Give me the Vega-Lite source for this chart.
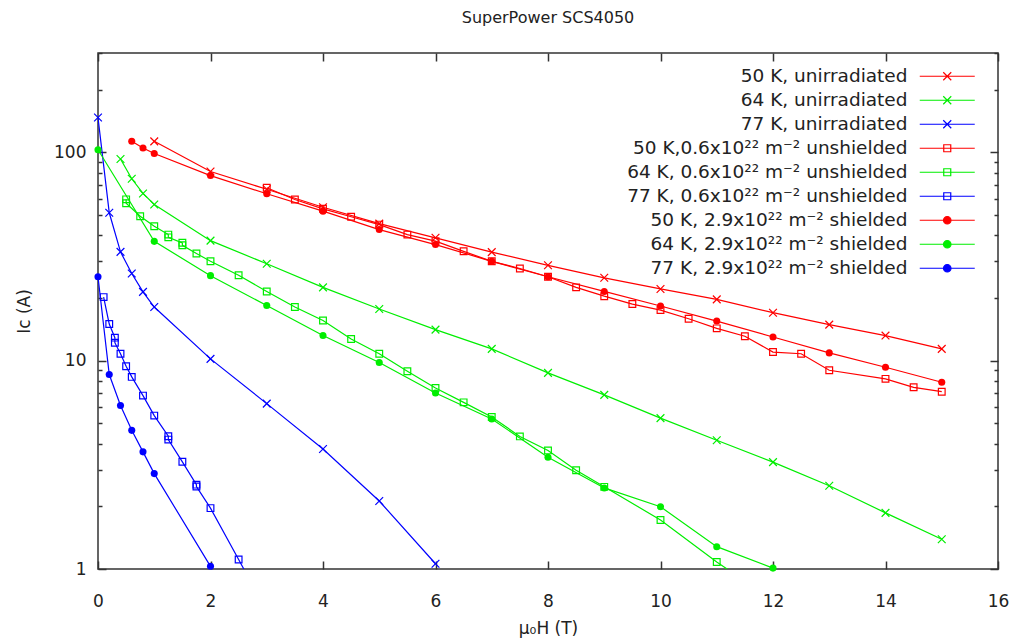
{
  "$schema": "https://vega.github.io/schema/vega-lite/v6.json",
  "width": 900,
  "height": 516,
  "autosize": {"type": "none"},
  "padding": {"left": 98, "top": 53, "right": 17, "bottom": 75},
  "title": {"text": "SuperPower SCS4050", "font": "DejaVu Sans", "fontSize": 16, "fontWeight": "normal", "color": "#222", "offset": 26},
  "config": {
    "view": {"stroke": "#333", "strokeWidth": 1.5},
    "axis": {"domain": false, "grid": false, "tickColor": "#333", "tickWidth": 1.5, "labelFont": "DejaVu Sans", "labelFontSize": 17, "labelColor": "#222", "titleFont": "DejaVu Sans", "titleFontSize": 17, "titleFontWeight": "normal", "titleColor": "#222"}
  },
  "data": {"values": [
    {"s": "50 K, unirradiated", "B": 1, "Ic": 113},
    {"s": "50 K, unirradiated", "B": 2, "Ic": 81},
    {"s": "50 K, unirradiated", "B": 3, "Ic": 66.5},
    {"s": "50 K, unirradiated", "B": 4, "Ic": 54.5},
    {"s": "50 K, unirradiated", "B": 5, "Ic": 45.5},
    {"s": "50 K, unirradiated", "B": 6, "Ic": 38.9},
    {"s": "50 K, unirradiated", "B": 7, "Ic": 33.2},
    {"s": "50 K, unirradiated", "B": 8, "Ic": 28.7},
    {"s": "50 K, unirradiated", "B": 9, "Ic": 25.0},
    {"s": "50 K, unirradiated", "B": 10, "Ic": 22.1},
    {"s": "50 K, unirradiated", "B": 11, "Ic": 19.7},
    {"s": "50 K, unirradiated", "B": 12, "Ic": 17.0},
    {"s": "50 K, unirradiated", "B": 13, "Ic": 14.9},
    {"s": "50 K, unirradiated", "B": 14, "Ic": 13.2},
    {"s": "50 K, unirradiated", "B": 15, "Ic": 11.4},
    {"s": "64 K, unirradiated", "B": 0.4, "Ic": 93},
    {"s": "64 K, unirradiated", "B": 0.6, "Ic": 74.7},
    {"s": "64 K, unirradiated", "B": 0.8, "Ic": 63.5},
    {"s": "64 K, unirradiated", "B": 1, "Ic": 56.2},
    {"s": "64 K, unirradiated", "B": 2, "Ic": 37.7},
    {"s": "64 K, unirradiated", "B": 3, "Ic": 29.2},
    {"s": "64 K, unirradiated", "B": 4, "Ic": 22.5},
    {"s": "64 K, unirradiated", "B": 5, "Ic": 17.7},
    {"s": "64 K, unirradiated", "B": 6, "Ic": 14.1},
    {"s": "64 K, unirradiated", "B": 7, "Ic": 11.4},
    {"s": "64 K, unirradiated", "B": 8, "Ic": 8.74},
    {"s": "64 K, unirradiated", "B": 9, "Ic": 6.85},
    {"s": "64 K, unirradiated", "B": 10, "Ic": 5.3},
    {"s": "64 K, unirradiated", "B": 11, "Ic": 4.15},
    {"s": "64 K, unirradiated", "B": 12, "Ic": 3.26},
    {"s": "64 K, unirradiated", "B": 13, "Ic": 2.51},
    {"s": "64 K, unirradiated", "B": 14, "Ic": 1.86},
    {"s": "64 K, unirradiated", "B": 15, "Ic": 1.39},
    {"s": "77 K, unirradiated", "B": 0, "Ic": 147},
    {"s": "77 K, unirradiated", "B": 0.2, "Ic": 51.3},
    {"s": "77 K, unirradiated", "B": 0.4, "Ic": 33.3},
    {"s": "77 K, unirradiated", "B": 0.6, "Ic": 26.2},
    {"s": "77 K, unirradiated", "B": 0.8, "Ic": 21.4},
    {"s": "77 K, unirradiated", "B": 1, "Ic": 18.1},
    {"s": "77 K, unirradiated", "B": 2, "Ic": 10.2},
    {"s": "77 K, unirradiated", "B": 3, "Ic": 6.22},
    {"s": "77 K, unirradiated", "B": 4, "Ic": 3.77},
    {"s": "77 K, unirradiated", "B": 5, "Ic": 2.12},
    {"s": "77 K, unirradiated", "B": 6, "Ic": 1.06},
    {"s": "50 K,0.6x10²² m⁻² unshielded", "B": 3, "Ic": 67.6},
    {"s": "50 K,0.6x10²² m⁻² unshielded", "B": 3.5, "Ic": 59.4},
    {"s": "50 K,0.6x10²² m⁻² unshielded", "B": 4, "Ic": 53.6},
    {"s": "50 K,0.6x10²² m⁻² unshielded", "B": 4.5, "Ic": 49.1},
    {"s": "50 K,0.6x10²² m⁻² unshielded", "B": 5, "Ic": 45.0},
    {"s": "50 K,0.6x10²² m⁻² unshielded", "B": 5.5, "Ic": 40.3},
    {"s": "50 K,0.6x10²² m⁻² unshielded", "B": 6, "Ic": 37.5},
    {"s": "50 K,0.6x10²² m⁻² unshielded", "B": 6.5, "Ic": 33.5},
    {"s": "50 K,0.6x10²² m⁻² unshielded", "B": 7, "Ic": 30.0},
    {"s": "50 K,0.6x10²² m⁻² unshielded", "B": 7.5, "Ic": 27.7},
    {"s": "50 K,0.6x10²² m⁻² unshielded", "B": 8, "Ic": 25.3},
    {"s": "50 K,0.6x10²² m⁻² unshielded", "B": 8.5, "Ic": 22.5},
    {"s": "50 K,0.6x10²² m⁻² unshielded", "B": 9, "Ic": 20.4},
    {"s": "50 K,0.6x10²² m⁻² unshielded", "B": 9.5, "Ic": 18.7},
    {"s": "50 K,0.6x10²² m⁻² unshielded", "B": 10, "Ic": 17.5},
    {"s": "50 K,0.6x10²² m⁻² unshielded", "B": 10.5, "Ic": 15.9},
    {"s": "50 K,0.6x10²² m⁻² unshielded", "B": 11, "Ic": 14.3},
    {"s": "50 K,0.6x10²² m⁻² unshielded", "B": 11.5, "Ic": 13.1},
    {"s": "50 K,0.6x10²² m⁻² unshielded", "B": 12, "Ic": 11.0},
    {"s": "50 K,0.6x10²² m⁻² unshielded", "B": 12.5, "Ic": 10.8},
    {"s": "50 K,0.6x10²² m⁻² unshielded", "B": 13, "Ic": 9.0},
    {"s": "50 K,0.6x10²² m⁻² unshielded", "B": 14, "Ic": 8.18},
    {"s": "50 K,0.6x10²² m⁻² unshielded", "B": 14.5, "Ic": 7.45},
    {"s": "50 K,0.6x10²² m⁻² unshielded", "B": 15, "Ic": 7.1},
    {"s": "64 K, 0.6x10²² m⁻² unshielded", "B": 0.5, "Ic": 59.5},
    {"s": "64 K, 0.6x10²² m⁻² unshielded", "B": 0.5, "Ic": 57},
    {"s": "64 K, 0.6x10²² m⁻² unshielded", "B": 0.75, "Ic": 49.4},
    {"s": "64 K, 0.6x10²² m⁻² unshielded", "B": 1, "Ic": 44.2},
    {"s": "64 K, 0.6x10²² m⁻² unshielded", "B": 1.25, "Ic": 40.3},
    {"s": "64 K, 0.6x10²² m⁻² unshielded", "B": 1.25, "Ic": 39.1},
    {"s": "64 K, 0.6x10²² m⁻² unshielded", "B": 1.5, "Ic": 36.8},
    {"s": "64 K, 0.6x10²² m⁻² unshielded", "B": 1.5, "Ic": 35.8},
    {"s": "64 K, 0.6x10²² m⁻² unshielded", "B": 1.75, "Ic": 32.7},
    {"s": "64 K, 0.6x10²² m⁻² unshielded", "B": 2, "Ic": 30.0},
    {"s": "64 K, 0.6x10²² m⁻² unshielded", "B": 2.5, "Ic": 25.7},
    {"s": "64 K, 0.6x10²² m⁻² unshielded", "B": 3, "Ic": 21.5},
    {"s": "64 K, 0.6x10²² m⁻² unshielded", "B": 3.5, "Ic": 18.1},
    {"s": "64 K, 0.6x10²² m⁻² unshielded", "B": 4, "Ic": 15.6},
    {"s": "64 K, 0.6x10²² m⁻² unshielded", "B": 4.5, "Ic": 12.7},
    {"s": "64 K, 0.6x10²² m⁻² unshielded", "B": 5, "Ic": 10.8},
    {"s": "64 K, 0.6x10²² m⁻² unshielded", "B": 5.5, "Ic": 8.9},
    {"s": "64 K, 0.6x10²² m⁻² unshielded", "B": 6, "Ic": 7.4},
    {"s": "64 K, 0.6x10²² m⁻² unshielded", "B": 6.5, "Ic": 6.31},
    {"s": "64 K, 0.6x10²² m⁻² unshielded", "B": 7, "Ic": 5.37},
    {"s": "64 K, 0.6x10²² m⁻² unshielded", "B": 7.5, "Ic": 4.33},
    {"s": "64 K, 0.6x10²² m⁻² unshielded", "B": 8, "Ic": 3.71},
    {"s": "64 K, 0.6x10²² m⁻² unshielded", "B": 8.5, "Ic": 2.98},
    {"s": "64 K, 0.6x10²² m⁻² unshielded", "B": 9, "Ic": 2.48},
    {"s": "64 K, 0.6x10²² m⁻² unshielded", "B": 10, "Ic": 1.72},
    {"s": "64 K, 0.6x10²² m⁻² unshielded", "B": 11, "Ic": 1.08},
    {"s": "64 K, 0.6x10²² m⁻² unshielded", "B": 12, "Ic": 0.71},
    {"s": "77 K, 0.6x10²² m⁻² unshielded", "B": 0.1, "Ic": 20.2},
    {"s": "77 K, 0.6x10²² m⁻² unshielded", "B": 0.2, "Ic": 15.0},
    {"s": "77 K, 0.6x10²² m⁻² unshielded", "B": 0.3, "Ic": 12.9},
    {"s": "77 K, 0.6x10²² m⁻² unshielded", "B": 0.3, "Ic": 12.2},
    {"s": "77 K, 0.6x10²² m⁻² unshielded", "B": 0.4, "Ic": 10.8},
    {"s": "77 K, 0.6x10²² m⁻² unshielded", "B": 0.5, "Ic": 9.4},
    {"s": "77 K, 0.6x10²² m⁻² unshielded", "B": 0.6, "Ic": 8.36},
    {"s": "77 K, 0.6x10²² m⁻² unshielded", "B": 0.8, "Ic": 6.8},
    {"s": "77 K, 0.6x10²² m⁻² unshielded", "B": 1, "Ic": 5.45},
    {"s": "77 K, 0.6x10²² m⁻² unshielded", "B": 1.25, "Ic": 4.34},
    {"s": "77 K, 0.6x10²² m⁻² unshielded", "B": 1.25, "Ic": 4.18},
    {"s": "77 K, 0.6x10²² m⁻² unshielded", "B": 1.5, "Ic": 3.27},
    {"s": "77 K, 0.6x10²² m⁻² unshielded", "B": 1.75, "Ic": 2.54},
    {"s": "77 K, 0.6x10²² m⁻² unshielded", "B": 1.75, "Ic": 2.49},
    {"s": "77 K, 0.6x10²² m⁻² unshielded", "B": 2, "Ic": 1.96},
    {"s": "77 K, 0.6x10²² m⁻² unshielded", "B": 2.5, "Ic": 1.11},
    {"s": "77 K, 0.6x10²² m⁻² unshielded", "B": 3, "Ic": 0.63},
    {"s": "50 K, 2.9x10²² m⁻² shielded", "B": 0.6, "Ic": 113},
    {"s": "50 K, 2.9x10²² m⁻² shielded", "B": 0.8, "Ic": 105},
    {"s": "50 K, 2.9x10²² m⁻² shielded", "B": 1, "Ic": 98.8},
    {"s": "50 K, 2.9x10²² m⁻² shielded", "B": 2, "Ic": 77.4},
    {"s": "50 K, 2.9x10²² m⁻² shielded", "B": 3, "Ic": 63.3},
    {"s": "50 K, 2.9x10²² m⁻² shielded", "B": 4, "Ic": 52.2},
    {"s": "50 K, 2.9x10²² m⁻² shielded", "B": 5, "Ic": 42.6},
    {"s": "50 K, 2.9x10²² m⁻² shielded", "B": 6, "Ic": 36.1},
    {"s": "50 K, 2.9x10²² m⁻² shielded", "B": 7, "Ic": 30.0},
    {"s": "50 K, 2.9x10²² m⁻² shielded", "B": 8, "Ic": 25.3},
    {"s": "50 K, 2.9x10²² m⁻² shielded", "B": 9, "Ic": 21.5},
    {"s": "50 K, 2.9x10²² m⁻² shielded", "B": 10, "Ic": 18.3},
    {"s": "50 K, 2.9x10²² m⁻² shielded", "B": 11, "Ic": 15.5},
    {"s": "50 K, 2.9x10²² m⁻² shielded", "B": 12, "Ic": 13.0},
    {"s": "50 K, 2.9x10²² m⁻² shielded", "B": 13, "Ic": 10.9},
    {"s": "50 K, 2.9x10²² m⁻² shielded", "B": 14, "Ic": 9.3},
    {"s": "50 K, 2.9x10²² m⁻² shielded", "B": 15, "Ic": 7.88},
    {"s": "64 K, 2.9x10²² m⁻² shielded", "B": 0, "Ic": 103},
    {"s": "64 K, 2.9x10²² m⁻² shielded", "B": 1, "Ic": 37.4},
    {"s": "64 K, 2.9x10²² m⁻² shielded", "B": 2, "Ic": 25.6},
    {"s": "64 K, 2.9x10²² m⁻² shielded", "B": 3, "Ic": 18.4},
    {"s": "64 K, 2.9x10²² m⁻² shielded", "B": 4, "Ic": 13.2},
    {"s": "64 K, 2.9x10²² m⁻² shielded", "B": 5, "Ic": 9.8},
    {"s": "64 K, 2.9x10²² m⁻² shielded", "B": 6, "Ic": 7.0},
    {"s": "64 K, 2.9x10²² m⁻² shielded", "B": 7, "Ic": 5.25},
    {"s": "64 K, 2.9x10²² m⁻² shielded", "B": 8, "Ic": 3.44},
    {"s": "64 K, 2.9x10²² m⁻² shielded", "B": 9, "Ic": 2.45},
    {"s": "64 K, 2.9x10²² m⁻² shielded", "B": 10, "Ic": 1.99},
    {"s": "64 K, 2.9x10²² m⁻² shielded", "B": 11, "Ic": 1.28},
    {"s": "64 K, 2.9x10²² m⁻² shielded", "B": 12, "Ic": 1.01},
    {"s": "77 K, 2.9x10²² m⁻² shielded", "B": 0, "Ic": 25.3},
    {"s": "77 K, 2.9x10²² m⁻² shielded", "B": 0.2, "Ic": 8.58},
    {"s": "77 K, 2.9x10²² m⁻² shielded", "B": 0.4, "Ic": 6.09},
    {"s": "77 K, 2.9x10²² m⁻² shielded", "B": 0.6, "Ic": 4.63},
    {"s": "77 K, 2.9x10²² m⁻² shielded", "B": 0.8, "Ic": 3.65},
    {"s": "77 K, 2.9x10²² m⁻² shielded", "B": 1, "Ic": 2.87},
    {"s": "77 K, 2.9x10²² m⁻² shielded", "B": 2, "Ic": 1.03}
  ]},
  "layer": [
    {
      "mark": {"type": "line", "clip": true, "strokeWidth": 1.2},
      "encoding": {
        "x": {"field": "B", "type": "quantitative", "scale": {"domain": [0, 16], "nice": false, "zero": false},
              "axis": {"orient": "bottom", "values": [0, 2, 4, 6, 8, 10, 12, 14, 16], "tickSize": -8, "labelPadding": 32, "labelFlush": false, "title": "μ₀H (T)", "titlePadding": 11}},
        "y": {"field": "Ic", "type": "quantitative", "scale": {"type": "log", "domain": [1, 300], "nice": false},
              "axis": {"orient": "left", "values": [1, 10, 100], "format": "d", "tickSize": -8, "labelPadding": 20, "labelFlush": false, "title": "Ic (A)", "titlePadding": 20}},
        "color": {"field": "s", "type": "nominal",
          "scale": {"domain": ["50 K, unirradiated", "64 K, unirradiated", "77 K, unirradiated", "50 K,0.6x10²² m⁻² unshielded", "64 K, 0.6x10²² m⁻² unshielded", "77 K, 0.6x10²² m⁻² unshielded", "50 K, 2.9x10²² m⁻² shielded", "64 K, 2.9x10²² m⁻² shielded", "77 K, 2.9x10²² m⁻² shielded"],
                    "range": ["#ff0000", "#00ee00", "#0000ff", "#ff0000", "#00ee00", "#0000ff", "#ff0000", "#00ee00", "#0000ff"]},
          "legend": {"orient": "none", "legendX": 840, "legendY": 14, "padding": 0, "title": null, "labelFont": "DejaVu Sans", "labelFontSize": 18.5, "labelColor": "#222", "labelAlign": "right", "labelOffset": -49, "labelLimit": 500, "symbolSize": 100, "rowPadding": 5, "symbolStrokeWidth": 1.2,
            "encode": {"symbols": {"update": {
              "shape": {"signal": "datum.index < 3 ? 'M-5.5,0H5.5M-0.8,-0.8L0.8,0.8M-0.8,0.8L0.8,-0.8' : datum.index < 6 ? 'M-5.5,0H5.5M-0.7,-0.7H0.7V0.7H-0.7Z' : 'M-5.5,0H5.5M0.75,0A0.75,0.75,0,1,1,-0.75,0A0.75,0.75,0,1,1,0.75,0Z'"},
              "fill": {"signal": "scale('color', datum.value)"},
              "fillOpacity": {"signal": "datum.index >= 6 ? 1 : 0"},
              "stroke": {"signal": "scale('color', datum.value)"},
              "strokeWidth": {"value": 1.2},
              "opacity": {"value": 1}
            }}}
          }
        }
      }
    },
    {
      "transform": [
        {"filter": {"field": "s", "oneOf": ["50 K, unirradiated", "64 K, unirradiated", "77 K, unirradiated"]}},
        {"filter": "datum.Ic >= 1"}
      ],
      "mark": {"type": "point", "filled": false, "shape": "M-1,-1L1,1M-1,1L1,-1", "size": 60, "strokeWidth": 1.2, "opacity": 1},
      "encoding": {
        "x": {"field": "B", "type": "quantitative", "scale": {"domain": [0, 16], "nice": false, "zero": false},
              "axis": {"orient": "top", "values": [0, 2, 4, 6, 8, 10, 12, 14, 16], "tickSize": -8, "labels": false, "title": null}},
        "y": {"field": "Ic", "type": "quantitative", "scale": {"type": "log", "domain": [1, 300], "nice": false},
              "axis": {"orient": "right", "values": [1, 10, 100], "tickSize": -8, "labels": false, "title": null}},
        "color": {"field": "s", "type": "nominal", "legend": null}
      }
    },
    {
      "transform": [
        {"filter": {"field": "s", "oneOf": ["50 K,0.6x10²² m⁻² unshielded", "64 K, 0.6x10²² m⁻² unshielded", "77 K, 0.6x10²² m⁻² unshielded"]}},
        {"filter": "datum.Ic >= 1"}
      ],
      "mark": {"type": "point", "filled": false, "shape": "M-1,-1H1V1H-1Z", "size": 45, "strokeWidth": 1.2, "opacity": 1},
      "encoding": {
        "x": {"field": "B", "type": "quantitative", "scale": {"domain": [0, 16], "nice": false, "zero": false}, "axis": null},
        "y": {"field": "Ic", "type": "quantitative", "scale": {"type": "log", "domain": [1, 300], "nice": false},
              "axis": {"orient": "left", "values": [2, 3, 4, 5, 6, 7, 8, 9, 20, 30, 40, 50, 60, 70, 80, 90, 200, 300], "tickSize": -4, "labels": false, "title": null}},
        "color": {"field": "s", "type": "nominal", "legend": null}
      }
    },
    {
      "transform": [
        {"filter": {"field": "s", "oneOf": ["50 K, 2.9x10²² m⁻² shielded", "64 K, 2.9x10²² m⁻² shielded", "77 K, 2.9x10²² m⁻² shielded"]}},
        {"filter": "datum.Ic >= 1"}
      ],
      "mark": {"type": "point", "filled": true, "shape": "circle", "size": 50, "opacity": 1},
      "encoding": {
        "x": {"field": "B", "type": "quantitative", "scale": {"domain": [0, 16], "nice": false, "zero": false}, "axis": null},
        "y": {"field": "Ic", "type": "quantitative", "scale": {"type": "log", "domain": [1, 300], "nice": false},
              "axis": {"orient": "right", "values": [2, 3, 4, 5, 6, 7, 8, 9, 20, 30, 40, 50, 60, 70, 80, 90, 200, 300], "tickSize": -4, "labels": false, "title": null}},
        "color": {"field": "s", "type": "nominal", "legend": null}
      }
    }
  ],
  "resolve": {"axis": {"x": "independent", "y": "independent"}}
}
